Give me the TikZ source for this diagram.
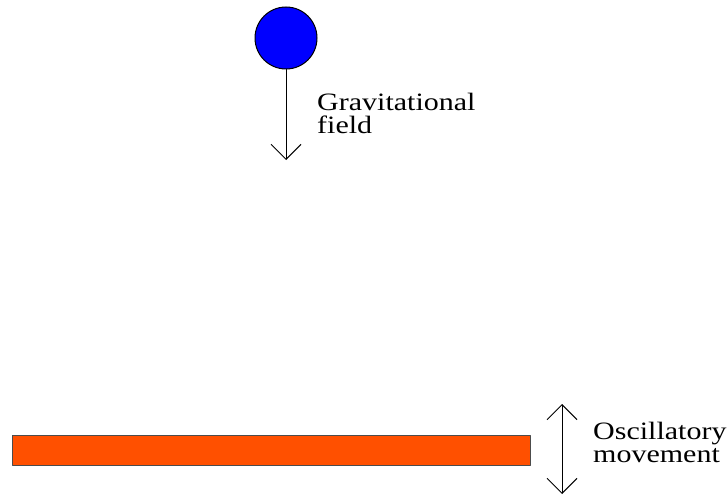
\documentclass[tikz,border=0pt]{standalone}
\usepackage{fontspec}
\setmainfont{Liberation Serif}
\newfontfamily\widefont[FakeStretch=1.2]{Liberation Serif}
\usetikzlibrary{arrows.meta}
\begin{document}
\begin{tikzpicture}[x=1pt,y=-1pt,line cap=round,line join=round,
    barb/.style={-{Straight Barb[length=15pt,width=30pt,line width=1pt]},line width=1pt},
    dbarb/.style={{Straight Barb[length=15pt,width=30pt,line width=1pt]}-{Straight Barb[length=15pt,width=30pt,line width=1pt]},line width=1pt},
    caption/.style={align=left,inner sep=0pt,anchor=base west,font=\widefont\fontsize{25}{22.5}\selectfont}]
  \definecolor{ballblue}{RGB}{0,0,255}
  \definecolor{plate}{RGB}{255,80,0}
  \useasboundingbox (0,0) rectangle (728,495);

  % ---- falling ball ----
  \node[circle,draw=black,fill=ballblue,line width=1pt,minimum size=62pt,inner sep=0pt] (ball) at (286,38) {};
  \coordinate (gtip) at (286,160);
  \draw[barb] (ball.south) -- (gtip);
  \node[caption] (gfield) at (317,133) {Gravitational\\field};

  % ---- vibrating plate ----
  \draw[draw=black!70,fill=plate,line width=1pt] (12,435) rectangle (530,465);
  \coordinate (otop) at (562,404);
  \coordinate (obot) at (562,494);
  \draw[dbarb] (otop) -- (obot);
  \node[caption] (omove) at (593,462) {Oscillatory\\movement};
\end{tikzpicture}
\end{document}
